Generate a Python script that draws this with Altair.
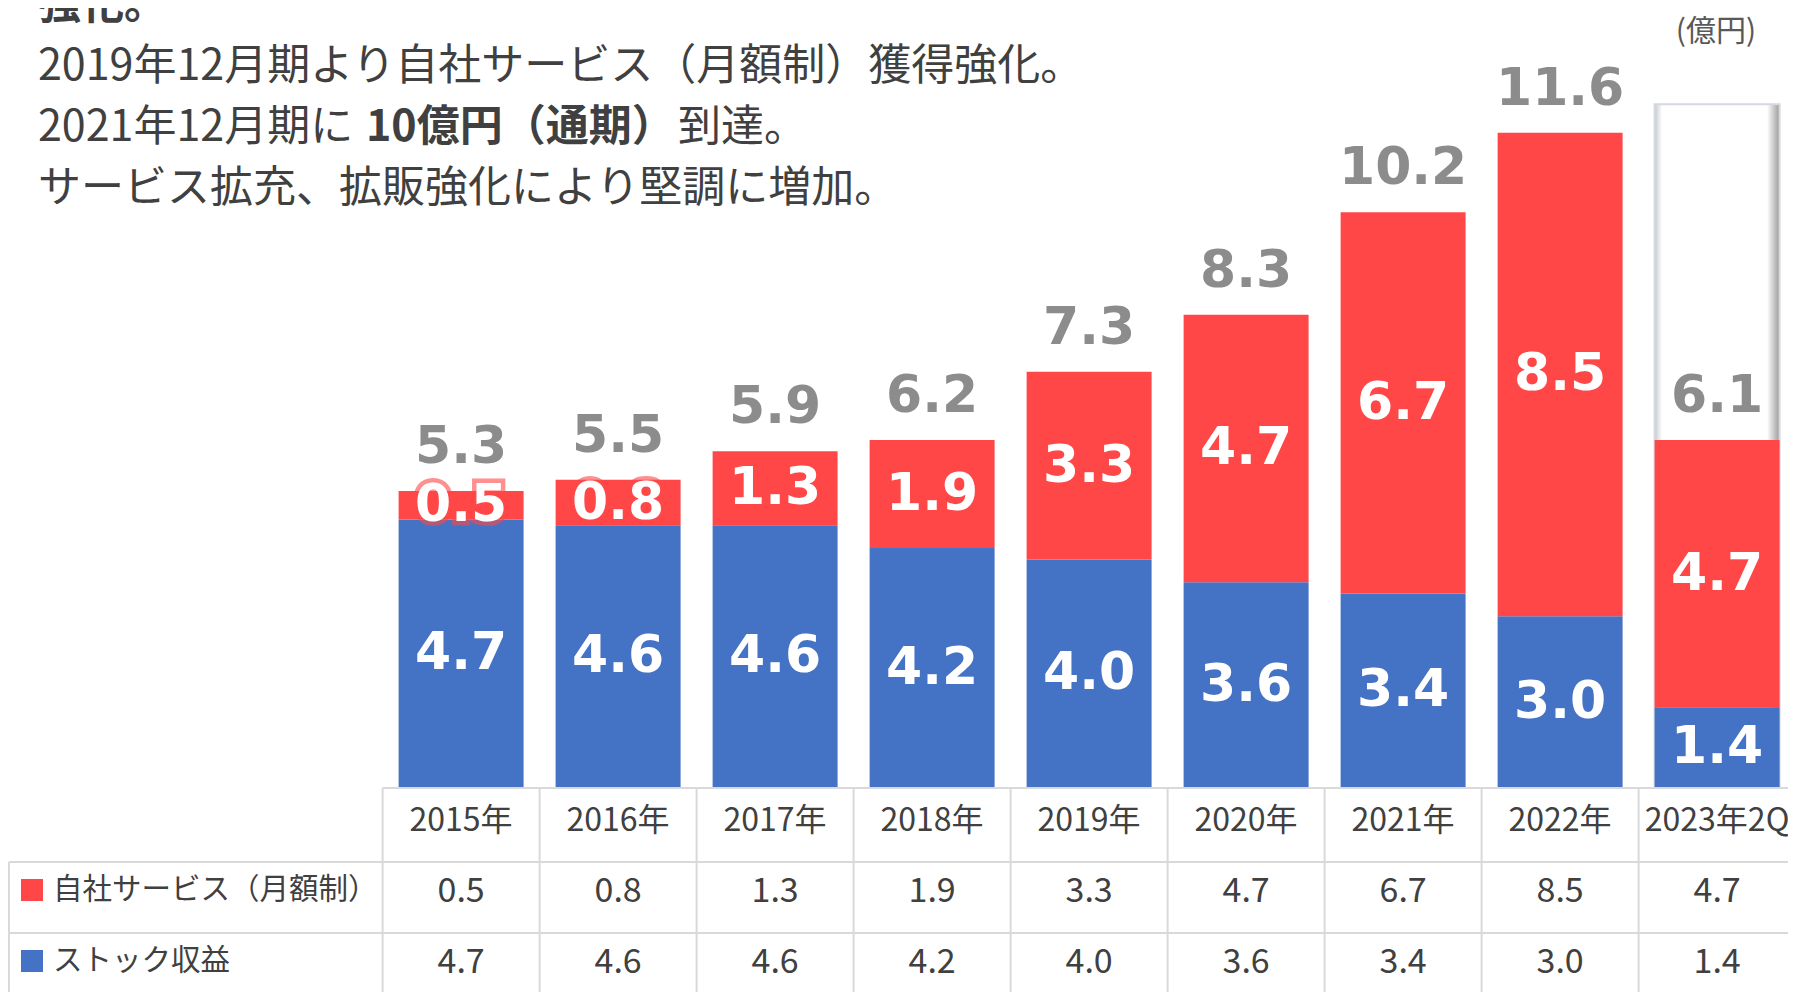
import altair as alt
import pandas as pd

# ---------------- data ----------------
years = ["2015年", "2016年", "2017年", "2018年", "2019年", "2020年", "2021年", "2022年", "2023年2Q"]
self_service = [0.5, 0.8, 1.3, 1.9, 3.3, 4.7, 6.7, 8.5, 4.7]   # 自社サービス（月額制）
stock = [4.7, 4.6, 4.6, 4.2, 4.0, 3.6, 3.4, 3.0, 1.4]          # ストック収益
totals = [5.3, 5.5, 5.9, 6.2, 7.3, 8.3, 10.2, 11.6, 6.1]
frame_year = "2023年2Q"
frame_top = 12.0

series_names = ["自社サービス（月額制）", "ストック収益"]
series_colors = ["#FF4747", "#4472C4"]

heading_cut = "強化。"
line1 = "2019年12月期より自社サービス（月額制）獲得強化。"
line2_a = "2021年12月期に"
line2_b = "10億円（通期）"
line2_c = "到達。"
line3 = "サービス拡充、拡販強化により堅調に増加。"
unit_label = "(億円)"

# ---------------- layout constants (view px) ----------------
W, H = 1780, 984
step = 157.0
x0 = 374.6                      # left edge of first year column
base_y = 779.0                  # baseline of bars
px_per_unit = 56.9
y_top_val = 13.0

CJK = "Noto Sans CJK JP"
NUM = "DejaVu Sans"
TXT = "#404040"
GRID = "#D9D9D9"

xscale = alt.Scale(domain=years, range=[x0, x0 + step * len(years)],
                   paddingInner=0.204, paddingOuter=0.102)
yscale = alt.Scale(domain=[0, y_top_val], range=[base_y, base_y - px_per_unit * y_top_val],
                   nice=False, zero=False)

X = alt.X("year:N", scale=xscale, axis=None, sort=years)

# segments
rows = []
for y, s, k in zip(years, self_service, stock):
    rows.append({"year": y, "series": series_names[1], "start": 0.0, "end": k,
                 "mid": k / 2, "label": f"{k:.1f}"})
    rows.append({"year": y, "series": series_names[0], "start": k, "end": k + s,
                 "mid": k + s / 2, "label": f"{s:.1f}"})
seg = pd.DataFrame(rows)
seg_red = seg[seg.series == series_names[0]]

tot = pd.DataFrame({"year": years, "total": totals,
                    "top": [a + b for a, b in zip(self_service, stock)],
                    "label": [f"{t:.1f}" for t in totals]})

frame = pd.DataFrame({"year": [frame_year], "start": [0.0], "end": [frame_top]})

color_scale = alt.Scale(domain=series_names, range=series_colors)

frame_layer = alt.Chart(frame).mark_bar(
    color={"gradient": "linear", "x1": 0, "x2": 1, "y1": 0, "y2": 0,
           "stops": [{"offset": 0, "color": "#C4C8D0"},
                     {"offset": 0.06, "color": "#FFFFFF"},
                     {"offset": 0.90, "color": "#FFFFFF"},
                     {"offset": 1, "color": "#9A9A9A"}]},
    stroke="#D5D8DE", strokeWidth=2
).encode(
    x=X,
    y=alt.Y("start:Q", scale=yscale, axis=None),
    y2="end:Q",
)

bars = alt.Chart(seg).mark_bar().encode(
    x=X,
    y=alt.Y("start:Q", scale=yscale, axis=None),
    y2="end:Q",
    color=alt.Color("series:N", scale=color_scale, legend=None),
)

LBL = 52

red_glow = alt.Chart(seg_red).mark_text(
    font=NUM, fontWeight="bold", fontSize=LBL, baseline="middle", align="center",
    color="#FF4747", stroke="#FF4747", strokeWidth=9, opacity=0.6
).encode(x=X, y=alt.Y("mid:Q", scale=yscale, axis=None), text="label:N")

seg_labels = alt.Chart(seg).mark_text(
    font=NUM, fontWeight="bold", fontSize=LBL, baseline="middle", align="center",
    color="white"
).encode(x=X, y=alt.Y("mid:Q", scale=yscale, axis=None), text="label:N")

tot_labels = alt.Chart(tot).mark_text(
    font=NUM, fontWeight="bold", fontSize=LBL, baseline="middle", align="center",
    color="#8C8C8C", dy=-44
).encode(x=X, y=alt.Y("top:Q", scale=yscale, axis=None), text="label:N")

# ---------------- table ----------------
hdr_y, r1_y, r2_y = 813, 884, 955
table_top, row1_top, row2_top, table_bot = 780, 854, 925, 998
left_edge = 1

lines = []
lines.append({"x1": x0, "x2": W, "y1": table_top, "y2": table_top})
for yy in (row1_top, row2_top, table_bot):
    lines.append({"x1": left_edge, "x2": W, "y1": yy, "y2": yy})
for i in range(len(years) + 1):
    xx = x0 + step * i
    lines.append({"x1": xx, "x2": xx, "y1": table_top, "y2": table_bot})
lines.append({"x1": left_edge, "x2": left_edge, "y1": row1_top, "y2": table_bot})
lines_df = pd.DataFrame(lines)

grid = alt.Chart(lines_df).mark_rule(color=GRID, strokeWidth=2).encode(
    x=alt.X("x1:Q", scale=None, axis=None), x2="x2:Q",
    y=alt.Y("y1:Q", scale=None, axis=None), y2="y2:Q",
)

hdr = alt.Chart(pd.DataFrame({"year": years})).mark_text(
    font=CJK, fontSize=32, color=TXT, baseline="middle", align="center"
).encode(x=X, y=alt.value(hdr_y), text="year:N")

row_self = alt.Chart(pd.DataFrame({"year": years, "v": [f"{v:.1f}" for v in self_service]})).mark_text(
    font=CJK, fontSize=34, color=TXT, baseline="middle", align="center"
).encode(x=X, y=alt.value(r1_y), text="v:N")

row_stock = alt.Chart(pd.DataFrame({"year": years, "v": [f"{v:.1f}" for v in stock]})).mark_text(
    font=CJK, fontSize=34, color=TXT, baseline="middle", align="center"
).encode(x=X, y=alt.value(r2_y), text="v:N")

leg = pd.DataFrame({"series": series_names, "ypos": [r1_y - 2, r2_y - 2]})
leg_sq = alt.Chart(leg).mark_square(size=484, opacity=1, filled=True).encode(
    x=alt.value(24), y=alt.Y("ypos:Q", scale=None, axis=None),
    color=alt.Color("series:N", scale=color_scale, legend=None),
)
leg_txt = alt.Chart(leg).mark_text(
    font=CJK, fontSize=29.5, color=TXT, baseline="middle", align="left"
).encode(x=alt.value(45), y=alt.Y("ypos:Q", scale=None, axis=None), text="series:N")

# ---------------- heading text ----------------
def txt(s, x, y, size=43, weight="normal", color=TXT, align="left", baseline="middle"):
    return alt.Chart(pd.DataFrame({"t": [s]})).mark_text(
        font=CJK, fontSize=size, fontWeight=weight, color=color,
        align=align, baseline=baseline
    ).encode(x=alt.value(x), y=alt.value(y), text="t:N")

heads = [
    txt(heading_cut, 30, 11, weight="bold", baseline="alphabetic"),
    txt(line1, 30, 59),
    txt(line2_a, 30, 120),
    txt(line2_b, 358, 120, weight="bold"),
    txt(line2_c, 670, 120),
    txt(line3, 30, 181),
    txt(unit_label, 1708, 24, size=30, color="#595959", align="center"),
]

chart = alt.layer(
    frame_layer, bars, red_glow, seg_labels, tot_labels,
    grid, hdr, row_self, row_stock, leg_sq, leg_txt, *heads
).resolve_scale(
    x="independent", y="independent", color="shared"
).properties(
    width=W, height=H, padding=0,
    autosize=alt.AutoSizeParams(type="none"),
).configure_view(stroke=None)

chart.save("out.html", embed_options={"renderer": "svg", "actions": False})
